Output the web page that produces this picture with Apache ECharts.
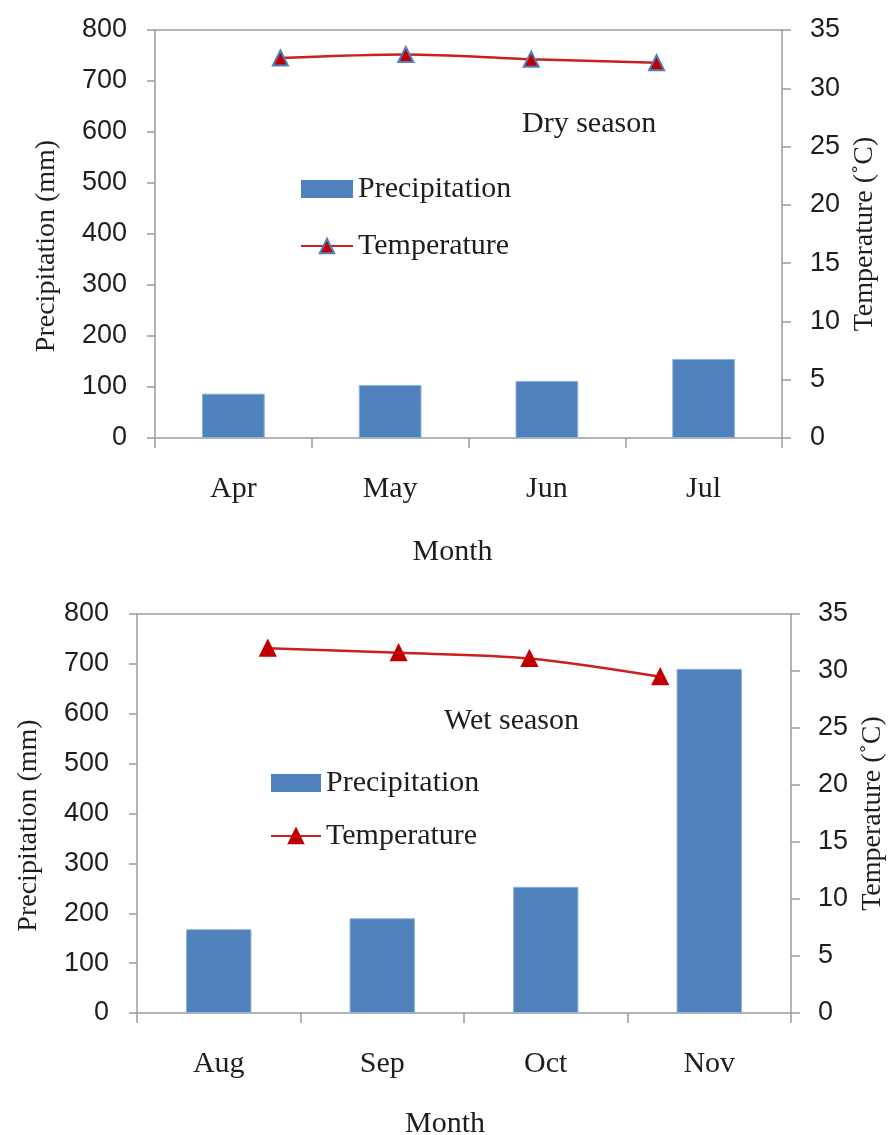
<!DOCTYPE html>
<html>
<head>
<meta charset="utf-8">
<script src="https://cdn.jsdelivr.net/npm/echarts@6/dist/echarts.min.js"></script>
<style>
html,body{margin:0;padding:0;background:#fff;overflow:hidden;}
#chart{width:890px;height:1135px;}
</style>
</head>
<body>
<div id="chart"></div>
<script>
// ---- data ----
const dryMonths = ['Apr', 'May', 'Jun', 'Jul'];
const dryPrecip = [87, 104, 112, 155];
const dryTemp = [32.6, 32.9, 32.5, 32.2];

const wetMonths = ['Aug', 'Sep', 'Oct', 'Nov'];
const wetPrecip = [168, 190, 253, 690];
const wetTemp = [32.0, 31.6, 31.1, 29.5];

const precipTicks = { min: 0, max: 800, interval: 100 };
const tempTicks = { min: 0, max: 35, interval: 5 };

// ---- styles ----
const AXIS = '#9a9a9a';
const TXT = '#1e1e1e';
const SERIF = '"Liberation Serif", "Times New Roman", serif';
const SANS = '"Liberation Sans", Arial, sans-serif';
const BAR = '#4F81BD';
const LINE = '#CC1F1F';
const MARK = '#C00000';

function pad(arr) { return [null].concat(arr, [null]); }
function padCat(arr) { return [''].concat(arr, ['']); }

function catAxis(grid, months, gap, shift) {
  return {
    type: 'category', gridIndex: grid, data: months, position: 'bottom',
    axisLine: { onZero: false, lineStyle: { color: AXIS, width: 1.5 } },
    axisTick: { show: true, length: 10, interval: 0, lineStyle: { color: AXIS, width: 1.5 } },
    axisLabel: { margin: 36, color: TXT, fontFamily: SERIF, fontSize: 30 },
    name: 'Month', nameLocation: 'middle', nameGap: gap,
    nameTextStyle: { color: TXT, fontFamily: SERIF, fontSize: 30, padding: [0, shift, 0, 0] }
  };
}
function topAxis(grid, months) {
  return {
    type: 'category', gridIndex: grid, data: padCat(months), position: 'top',
    boundaryGap: false,
    axisLine: { show: true, onZero: false, lineStyle: { color: AXIS, width: 1.5 } },
    axisTick: { show: false }, axisLabel: { show: false }
  };
}
function leftAxis(grid) {
  return {
    type: 'value', gridIndex: grid, position: 'left',
    min: precipTicks.min, max: precipTicks.max, interval: precipTicks.interval,
    axisLine: { show: true, onZero: false, lineStyle: { color: AXIS, width: 1.5 } },
    axisTick: { show: true, length: 8, lineStyle: { color: AXIS, width: 1.5 } },
    splitLine: { show: false },
    axisLabel: { margin: 28, color: TXT, fontFamily: SANS, fontSize: 27 },
    name: 'Precipitation (mm)', nameLocation: 'middle', nameRotate: 90, nameGap: 94,
    nameTextStyle: { color: TXT, fontFamily: SERIF, fontSize: 28, padding: [0, 24, 0, 0] }
  };
}
function rightAxis(grid, margin) {
  return {
    type: 'value', gridIndex: grid, position: 'right',
    min: tempTicks.min, max: tempTicks.max, interval: tempTicks.interval,
    axisLine: { show: true, onZero: false, lineStyle: { color: AXIS, width: 1.5 } },
    axisTick: { show: true, length: 9, lineStyle: { color: AXIS, width: 1.5 } },
    splitLine: { show: false },
    axisLabel: { margin: margin, color: TXT, fontFamily: SANS, fontSize: 27 },
    name: 'Temperature (˚C)', nameLocation: 'middle', nameRotate: 90, nameGap: 68,
    nameTextStyle: { color: TXT, fontFamily: SERIF, fontSize: 28 }
  };
}
function legendFor(left, top, width, gap, markerBorder) {
  return {
    orient: 'vertical', left: left, top: top, itemWidth: width, itemHeight: 18, itemGap: gap,
    textStyle: { color: TXT, fontFamily: SERIF, fontSize: 30 },
    selectedMode: false,
    data: [
      { name: 'Precipitation', icon: 'rect', itemStyle: { color: BAR, borderWidth: 0 } },
      { name: 'Temperature', itemStyle: { color: MARK, borderColor: markerBorder, borderWidth: 2 },
        lineStyle: { color: LINE, width: 2 } }
    ]
  };
}
function barSeries(x, y, data) {
  return {
    name: 'Precipitation', type: 'bar', xAxisIndex: x, yAxisIndex: y, data: data,
    barCategoryGap: '60%',
    itemStyle: { color: BAR, borderColor: '#8FB0D8', borderWidth: 1 }
  };
}
function lineSeries(x, y, data, border) {
  return {
    name: 'Temperature', type: 'line', xAxisIndex: x, yAxisIndex: y, data: pad(data),
    smooth: 0.3, symbol: 'triangle', symbolSize: 15,
    lineStyle: { color: LINE, width: 2.5 },
    itemStyle: { color: MARK, borderColor: border, borderWidth: 2 }
  };
}

const chart = echarts.init(document.getElementById('chart'), null, { renderer: 'canvas' });
chart.setOption({
  backgroundColor: '#fff',
  animation: false,
  title: [
    { text: 'Dry season', left: 517, top: 104, textStyle: { color: TXT, fontFamily: SERIF, fontSize: 30, fontWeight: 'normal' } },
    { text: 'Wet season', left: 439, top: 701, textStyle: { color: TXT, fontFamily: SERIF, fontSize: 30, fontWeight: 'normal' } }
  ],
  legend: [
    legendFor(295, 169, 52, 27, BAR),
    legendFor(265, 763, 50, 23, MARK)
  ],
  grid: [
    { left: 155, width: 627, top: 30, height: 408, containLabel: false, outerBoundsMode: 'none' },
    { left: 137, width: 654, top: 614, height: 399, containLabel: false, outerBoundsMode: 'none' }
  ],
  xAxis: [
    catAxis(0, dryMonths, 99, 32), topAxis(0, dryMonths),
    catAxis(1, wetMonths, 96, 38), topAxis(1, wetMonths)
  ],
  yAxis: [
    leftAxis(0), rightAxis(0, 28), leftAxis(1), rightAxis(1, 27)
  ],
  series: [
    barSeries(0, 0, dryPrecip),
    lineSeries(1, 1, dryTemp, BAR),
    barSeries(2, 2, wetPrecip),
    lineSeries(3, 3, wetTemp, MARK)
  ]
});
</script>
</body>
</html>
